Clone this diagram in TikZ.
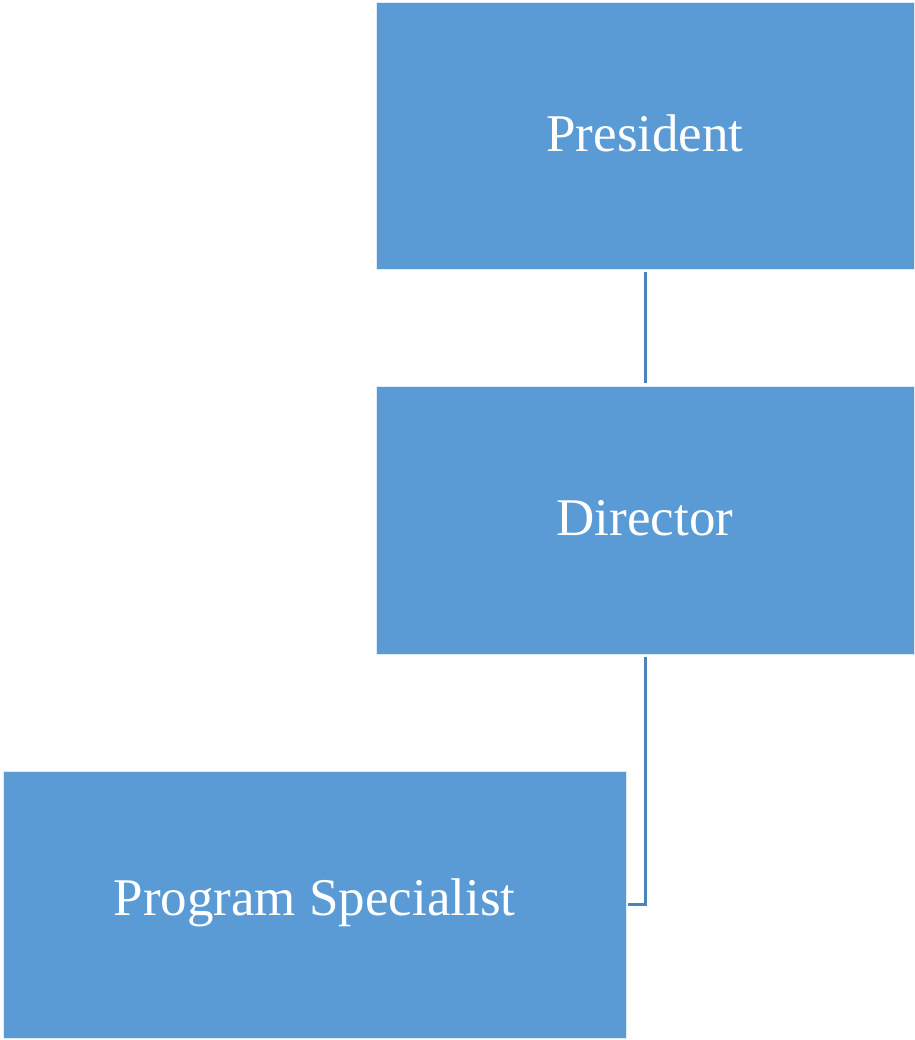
\documentclass[tikz,border=0pt]{standalone}
\usepackage{fontspec}
\setmainfont{Liberation Serif}
\definecolor{boxfill}{HTML}{5B9BD5}
\definecolor{linecol}{HTML}{4A84BC}
\begin{document}
\begin{tikzpicture}[x=1pt,y=1pt,
  orgbox/.style={draw=white!80!boxfill, line width=0.8pt, fill=boxfill, text=white,
    font=\fontsize{53}{60}\selectfont, inner sep=0pt},
  link/.style={draw=linecol, line width=3pt}]
\useasboundingbox (0,0) rectangle (914,1040);
\path[orgbox] (376,771) rectangle (914,1038) node[midway, yshift=2pt] (pres) {President};
\path[orgbox] (376,386) rectangle (914,654) node[midway, yshift=2pt] (dir) {Director};
\path[orgbox] (3,2) rectangle (626,269) node[midway, yshift=2pt] (ps) {Program Specialist};
\coordinate (p1) at (645,768);
\coordinate (p2) at (645,657);
\coordinate (d1) at (645,383);
\coordinate (d2) at (645,135);
\coordinate (s1) at (628,135);
\draw[link] (p1) -- (p2);
\draw[link] (d1) -- (d2) -- (s1);
\end{tikzpicture}
\end{document}
